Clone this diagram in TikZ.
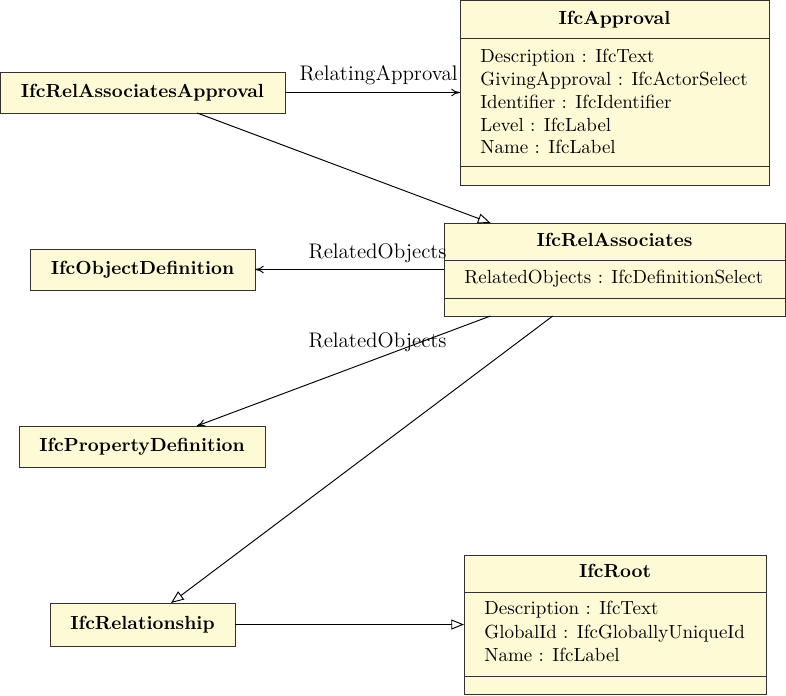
\documentclass[tikz,border=0pt]{standalone}
\usetikzlibrary{arrows.meta,calc}
\definecolor{umlfill}{RGB}{255,250,214}
\definecolor{umlline}{RGB}{50,50,50}
\def\pxu{0.5263pt}
\newcommand{\umlbox}[5]{%
  \node[box, minimum width={(#4-#2)*\pxu}, minimum height={(#5-#3)*\pxu}] (#1) at ({(#2+#4)/2},{(#3+#5)/2}) {};}
\begin{document}
\begin{tikzpicture}[x=0.5263pt,y=-0.5263pt,
  box/.style={draw=umlline, fill=umlfill, line width=0.5pt, inner sep=0pt, outer sep=0pt},
  classtitle/.style={font=\bfseries, anchor=base, inner sep=0pt},
  attr/.style={anchor=base west, inner sep=0pt},
  lbl/.style={anchor=base east, inner sep=0pt, font=\fontsize{11.1}{13}\selectfont},
  sep/.style={draw=umlline, line width=0.5pt},
  assoc/.style={line width=0.5pt, -{To[length=4.6pt,width=3.9pt]}},
  gen/.style={line width=0.5pt, -{Triangle[open,length=6.7pt,width=5.3pt]}}]
\useasboundingbox (0,0) rectangle (786,695);

% IfcApproval
\umlbox{appr}{460}{0}{769}{185}
\node[classtitle] (apprt) at (614.5,24) {IfcApproval};
\draw[sep] (460,38) -- (769,38);
\draw[sep] (460,166) -- (769,166);
\node[attr] (appra1) at (480,62) {Description : IfcText};
\node[attr] (appra2) at (480,85) {GivingApproval : IfcActorSelect};
\node[attr] (appra3) at (480,108) {Identifier : IfcIdentifier};
\node[attr] (appra4) at (480,131) {Level : IfcLabel};
\node[attr] (appra5) at (480,153) {Name : IfcLabel};

% IfcRelAssociatesApproval
\umlbox{rap}{0}{72}{285}{113}
\node[font=\bfseries, inner sep=0pt] (rapt) at (rap) {IfcRelAssociatesApproval};

% IfcRelAssociates
\umlbox{rel}{444}{223}{785}{316}
\node[classtitle] (relt) at (614.5,246) {IfcRelAssociates};
\draw[sep] (444,260) -- (785,260);
\draw[sep] (444,298) -- (785,298);
\node[attr] (rela1) at (464,283) {RelatedObjects : IfcDefinitionSelect};

% IfcObjectDefinition
\umlbox{objd}{30}{249}{255}{290}
\node[font=\bfseries, inner sep=0pt] (objdt) at (objd) {IfcObjectDefinition};

% IfcPropertyDefinition
\umlbox{propd}{19}{426}{265}{467}
\node[font=\bfseries, inner sep=0pt] (propdt) at (propd) {IfcPropertyDefinition};

% IfcRelationship
\umlbox{relship}{50}{603}{235}{646}
\node[font=\bfseries, inner sep=0pt] (relshipt) at (relship) {IfcRelationship};

% IfcRoot
\umlbox{root}{464}{555}{766}{694}
\node[classtitle] (roott) at (615,577) {IfcRoot};
\draw[sep] (464,592) -- (766,592);
\draw[sep] (464,676) -- (766,676);
\node[attr] (roota1) at (484,614) {Description : IfcText};
\node[attr] (roota2) at (484,638) {GlobalId : IfcGloballyUniqueId};
\node[attr] (roota3) at (484,661) {Name : IfcLabel};

% connectors
\draw[assoc] (rap) -- (appr);
\node[lbl] (lblra) at ($(appr.west)+(-2,-12.5)$) {RelatingApproval};
\draw[gen] (rap) -- (rel);
\draw[assoc] (rel) -- (objd);
\node[lbl] (lblro1) at ($(rel.west)+(3,-11.5)$) {RelatedObjects};
\draw[assoc] (rel) -- (propd);
\node[lbl] (lblro2) at ($(rel.south west)+(3,31)$) {RelatedObjects};
\draw[gen] (rel) -- (relship);
\draw[gen] (relship) -- (root);
\end{tikzpicture}
\end{document}
